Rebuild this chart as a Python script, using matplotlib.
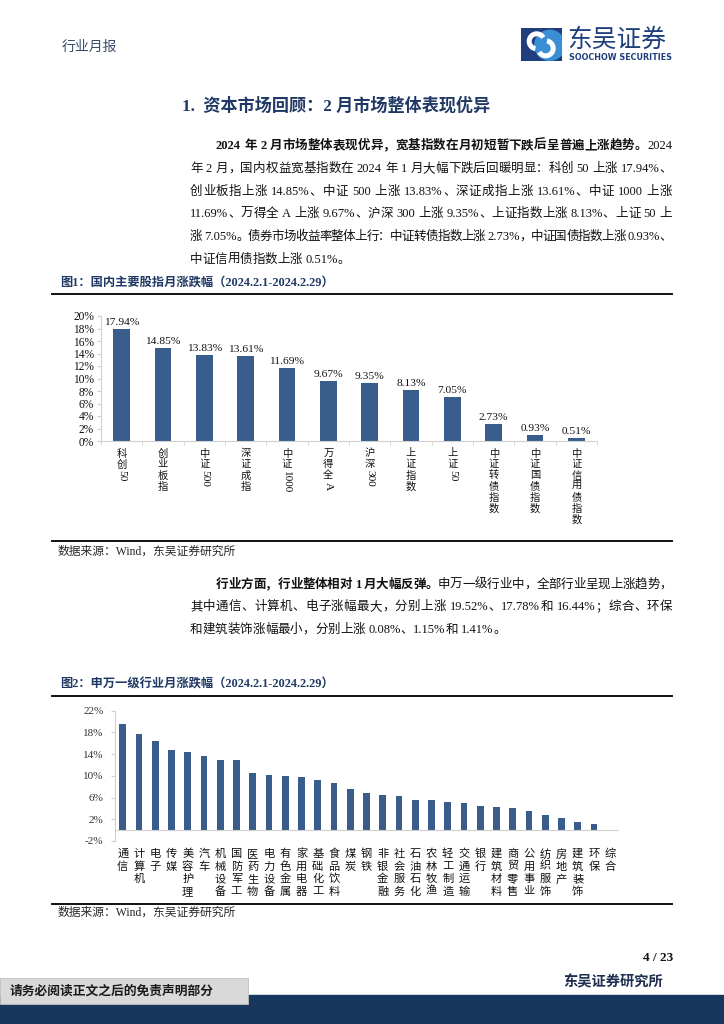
import matplotlib
matplotlib.use('Agg')
import matplotlib.pyplot as plt
from matplotlib.lines import Line2D
from matplotlib.patches import Rectangle, Circle, Arc

plt.rcParams['font.family'] = ['Liberation Serif', 'Noto Sans CJK SC']

# 图1 国内主要股指月涨跌幅 (%)
idx_names = ['科创50', '创业板指', '中证500', '深证成指', '中证1000', '万得全A',
             '沪深300', '上证指数', '上证50', '中证转债指数', '中证国债指数', '中证信用债指数']
idx_chg = [17.94, 14.85, 13.83, 13.61, 11.69, 9.67, 9.35, 8.13, 7.05, 2.73, 0.93, 0.51]
idx_ticks = [0, 2, 4, 6, 8, 10, 12, 14, 16, 18, 20]

# 图2 申万一级行业月涨跌幅 (%)
ind_names = ['通信', '计算机', '电子', '传媒', '美容护理', '汽车', '机械设备', '国防军工',
             '医药生物', '电力设备', '有色金属', '家用电器', '基础化工', '食品饮料', '煤炭',
             '钢铁', '非银金融', '社会服务', '石油石化', '农林牧渔', '轻工制造', '交通运输',
             '银行', '建筑材料', '商贸零售', '公用事业', '纺织服饰', '房地产', '建筑装饰',
             '环保', '综合']
ind_chg = [19.52, 17.78, 16.44, 14.85, 14.48, 13.62, 13.00, 12.88, 10.49, 10.18, 10.00,
           9.88, 9.26, 8.65, 7.60, 6.75, 6.44, 6.38, 5.64, 5.58, 5.21, 4.97, 4.36, 4.33,
           4.17, 3.50, 2.70, 2.20, 1.41, 1.15, 0.08]
ind_ticks = [-2, 2, 6, 10, 14, 18, 22]

para1 = [
    (216, 145, [('2024 年 2 月市场整体表现优异，宽基指数在月初短暂下跌后呈普遍上涨趋势。', True), ('2024', False)], True),
    (190, 168, [('年 2 月，国内权益宽基指数在 2024 年 1 月大幅下跌后回暖明显：科创 50 上涨 17.94%、', False)], True),
    (190, 191, [('创业板指上涨 14.85%、中证 500 上涨 13.83%、深证成指上涨 13.61%、中证 1000 上涨', False)], True),
    (190, 213, [('11.69%、万得全 A 上涨 9.67%、沪深 300 上涨 9.35%、上证指数上涨 8.13%、上证 50 上', False)], True),
    (190, 236, [('涨 7.05%。债券市场收益率整体上行：中证转债指数上涨 2.73%，中证国债指数上涨 0.93%、', False)], True),
    (190, 259, [('中证信用债指数上涨 0.51%。', False)], False),
]
para2 = [
    (216, 584, [('行业方面，行业整体相对 1 月大幅反弹。', True), ('申万一级行业中，全部行业呈现上涨趋势，', False)], True),
    (190, 606, [('其中通信、计算机、电子涨幅最大，分别上涨 19.52%、17.78%和 16.44%；综合、环保', False)], True),
    (190, 629, [('和建筑装饰涨幅最小，分别上涨 0.08%、1.15%和 1.41%。', False)], False),
]

W, H = 724, 1024
NAVY = '#1F3864'
BAR = '#385D8A'
AXC = '#d0d0d0'

fig = plt.figure(figsize=(7.24, 10.24), dpi=100)
renderer = fig.canvas.get_renderer()


def fx(x):
    return x / W


def fy(y):
    return 1 - y / H


def hline(y, x0, x1, lw=1.4, color='#111111'):
    fig.add_artist(Line2D([fx(x0), fx(x1)], [fy(y), fy(y)], lw=lw, color=color))


def tokens_of(s):
    out, run = [], ''
    for c in s:
        if c == ' ':
            if run:
                out.append(run)
                run = ''
            out.append(' ')
        elif ord(c) < 128:
            run += c
        else:
            if run:
                out.append(run)
                run = ''
            out.append(c)
    if run:
        out.append(run)
    return out


def body_line(x0, y, parts, justify, x1=672, size=9):
    items = []
    for s, bold in parts:
        for tk in tokens_of(s):
            if tk == ' ':
                items.append((None, size * 100 / 72 * 0.25))
                continue
            t = fig.text(fx(x0), fy(y + 4), tk, fontsize=size, ha='left', va='baseline',
                         fontweight='bold' if bold else 'normal', color='#111111')
            items.append((t, t.get_window_extent(renderer).width))
    total = sum(w for _, w in items)
    gap = (x1 - x0 - total) / (len(items) - 1) if justify else 0
    x = x0
    for t, w in items:
        if t is not None:
            t.set_x(fx(x))
        x += w + gap


def vlabels(ax, names, start, step, size, ascii_size, color='#111111'):
    for i, name in enumerate(names):
        k = 0
        for tk in tokens_of(name):
            off = start + k * step
            if ord(tk[0]) < 128:
                ax.annotate(tk, (i, 0), xycoords=('data', 'axes fraction'),
                            xytext=(0, -(off - 5)), textcoords='offset pixels',
                            rotation=-90, ha='center', va='top', fontsize=ascii_size,
                            color=color, annotation_clip=False)
            else:
                ax.annotate(tk, (i, 0), xycoords=('data', 'axes fraction'),
                            xytext=(0, -off), textcoords='offset pixels',
                            ha='center', va='center', fontsize=size, color=color,
                            annotation_clip=False)
            k += 1


# header
fig.text(fx(62), fy(47), '行业月报', fontsize=10, color='#3a4a6b', ha='left', va='center')

lg = fig.add_axes([fx(520.7), fy(60.7), 41 / W, 32.4 / H])
lg.set_xlim(0, 41)
lg.set_ylim(32.4, 0)
lg.axis('off')
bg = Rectangle((0, 0), 41, 32.4, color='#1E3F7C')
lg.add_patch(bg)
c = Circle((29, 17), 15, color='#3A8ED3')
lg.add_patch(c)
c.set_clip_path(bg)
lg.add_patch(Arc((16, 13), 15, 15, theta1=100, theta2=330, lw=3.6, color='white'))
lg.add_patch(Arc((25, 20), 15, 15, theta1=280, theta2=150, lw=3.6, color='white'))
fig.text(fx(567), fy(40), '东吴证券', fontsize=17.8, color='#1E3F7C', ha='left', va='center',
         family='Noto Sans CJK SC')
fig.text(fx(569), fy(57.5), 'SOOCHOW SECURITIES', fontsize=5.8, color='#1E3F7C', ha='left',
         va='center', family='DejaVu Sans', fontweight='bold')

fig.text(fx(182), fy(106), '1.  资本市场回顾：2 月市场整体表现优异', fontsize=12.3,
         fontweight='bold', color=NAVY, ha='left', va='center')

for x0, y, parts, just in para1:
    body_line(x0, y, parts, just)
for x0, y, parts, just in para2:
    body_line(x0, y, parts, just)

# figure 1
fig.text(fx(60), fy(282.5), '图1：国内主要股指月涨跌幅（2024.2.1-2024.2.29）', fontsize=8.8,
         fontweight='bold', color=NAVY, ha='left', va='center')
hline(294, 52, 672)
hline(541, 52, 672)
fig.text(fx(58), fy(552), '数据来源：Wind，东吴证券研究所', fontsize=8.5, color='#262626',
         ha='left', va='center')

ax1 = fig.add_axes([fx(101), fy(441), (597 - 101) / W, (441 - 316) / H])
pos1 = list(range(len(idx_names)))
ax1.bar(pos1, idx_chg, width=0.41, color=BAR)
for i, v in zip(pos1, idx_chg):
    ax1.annotate(f'{v:.2f}%', (i, v), xytext=(0, 2), textcoords='offset pixels',
                 ha='center', va='bottom', fontsize=8.2, color='#111111')
ax1.set_xlim(-0.5, len(idx_names) - 0.5)
ax1.set_ylim(0, 20)
ax1.set_yticks(idx_ticks)
ax1.set_yticklabels([f'{t}%' for t in idx_ticks])
ax1.set_xticks([])
ax1.set_xticks([i - 0.5 for i in range(len(idx_names) + 1)], minor=True)
ax1.tick_params(axis='x', which='minor', length=3, color=AXC)
ax1.tick_params(axis='y', length=3, color=AXC, labelsize=8.3, pad=2, labelcolor='#111111')
for s in ['top', 'right']:
    ax1.spines[s].set_visible(False)
for s in ['left', 'bottom']:
    ax1.spines[s].set_color(AXC)
    ax1.spines[s].set_linewidth(0.8)
vlabels(ax1, idx_names, 12.5, 11, 7.4, 8.2)

# paragraph 2 / figure 2
fig.text(fx(60), fy(685), '图2：申万一级行业月涨跌幅（2024.2.1-2024.2.29）', fontsize=8.8,
         fontweight='bold', color=NAVY, ha='left', va='center')
hline(695.5, 52, 672)
hline(904, 52, 672)
fig.text(fx(58), fy(913), '数据来源：Wind，东吴证券研究所', fontsize=8.5, color='#262626',
         ha='left', va='center')

ax2 = fig.add_axes([fx(114.6), fy(841), (618.3 - 114.6) / W, (841 - 710.7) / H])
pos2 = list(range(len(ind_names)))
ax2.bar(pos2, ind_chg, width=0.41, color=BAR)
ax2.set_xlim(-0.5, len(ind_names) - 0.5)
ax2.set_ylim(-2, 22)
ax2.set_yticks(ind_ticks)
ax2.set_yticklabels([f'{t}%' for t in ind_ticks])
ax2.set_xticks([])
ax2.tick_params(axis='y', length=3, color=AXC, labelsize=8, pad=5, labelcolor='#333333')
for s in ['top', 'right']:
    ax2.spines[s].set_visible(False)
ax2.spines['bottom'].set_position(('data', 0))
for s in ['left', 'bottom']:
    ax2.spines[s].set_color(AXC)
    ax2.spines[s].set_linewidth(0.8)
vlabels(ax2, ind_names, 13, 12.6, 8.1, 8.1)

# footer
fig.text(fx(673), fy(958), '4 / 23', fontsize=9.5, fontweight='bold', color='#111111',
         ha='right', va='center')
fig.text(fx(663), fy(982), '东吴证券研究所', fontsize=10.3, fontweight='bold', color='#1F2F4F',
         ha='right', va='center')
fig.add_artist(Rectangle((0, 0), 1, (1024 - 995) / H, transform=fig.transFigure,
                         color='#17375E', zorder=1))
fig.add_artist(Rectangle((0, fy(1004)), 248 / W, (1004 - 978) / H, transform=fig.transFigure,
                         facecolor='#D9D9D9', edgecolor='#bfbfbf', lw=0.6, zorder=2))
fig.text(fx(10), fy(991), '请务必阅读正文之后的免责声明部分', fontsize=9.2, fontweight='bold',
         color='#1a1a1a', ha='left', va='center', zorder=3)

fig.savefig('out.png', dpi=100)
